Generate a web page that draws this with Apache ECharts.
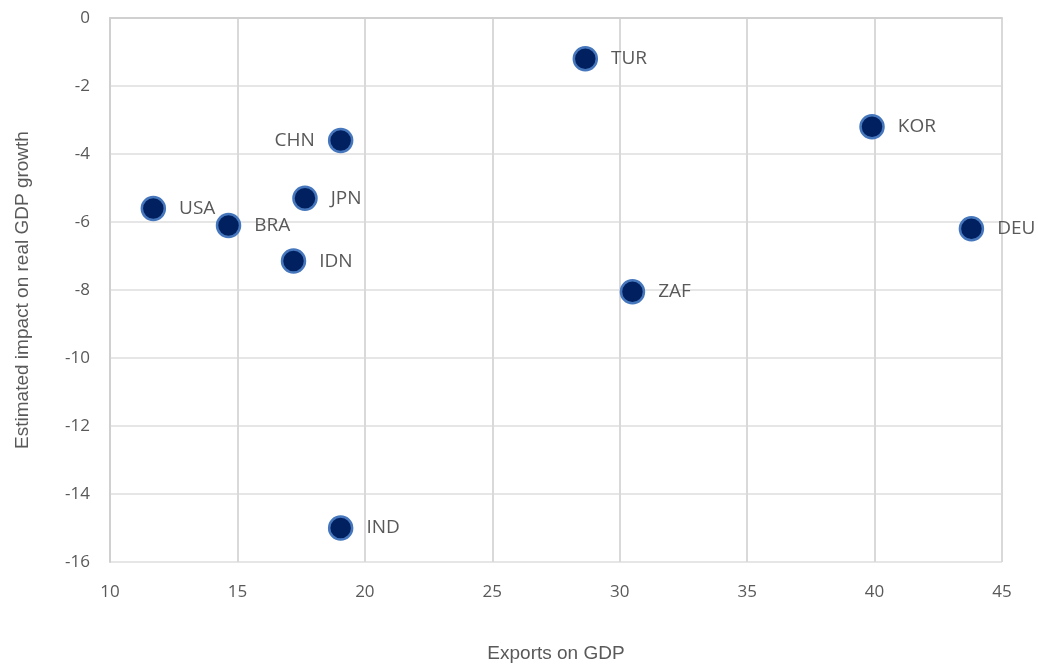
<!DOCTYPE html>
<html>
<head>
<meta charset="utf-8">
<script src="https://cdn.jsdelivr.net/npm/echarts@6/dist/echarts.min.js"></script>
<style>
html,body{margin:0;padding:0;background:#fff;}
#chart{width:1038px;height:668px;}
</style>
</head>
<body>
<div id="chart"></div>
<script>
const countries = ['USA','BRA','CHN','JPN','IDN','IND','TUR','ZAF','KOR','DEU'];
const exportsOnGDP = [11.7, 14.65, 19.05, 17.65, 17.2, 19.05, 28.65, 30.5, 39.9, 43.8];
const gdpImpact = [-5.6, -6.1, -3.6, -5.3, -7.15, -15.0, -1.2, -8.05, -3.2, -6.2];
const labelLeft = ['CHN'];

const data = countries.map((c, i) => ({
  name: c,
  value: [exportsOnGDP[i], gdpImpact[i]],
  label: labelLeft.includes(c) ? {position: 'left', distance: 13} : {}
}));

const chart = echarts.init(document.getElementById('chart'));
const tickFont = {color: '#595959', fontSize: 17, fontFamily: 'Open Sans'};
const nameFont = {color: '#595959', fontSize: 19, fontFamily: 'Liberation Sans Narrow, Liberation Sans, sans-serif'};
chart.setOption({
  animation: false,
  grid: {left: 110, right: 36, top: 18, bottom: 106, outerBoundsMode: 'none'},
  xAxis: {
    type: 'value', min: 10, max: 45, interval: 5,
    name: 'Exports on GDP', nameLocation: 'middle', nameGap: 82,
    nameTextStyle: nameFont,
    axisLine: {show: true, lineStyle: {color: '#d0d0d0', width: 2}},
    axisTick: {show: false},
    axisLabel: Object.assign({margin: 22}, tickFont),
    splitLine: {show: true, lineStyle: {color: '#d9d9d9', width: 2}}
  },
  yAxis: {
    type: 'value', min: -16, max: 0, interval: 2,
    name: 'Estimated impact on real GDP growth', nameLocation: 'middle', nameGap: 78,
    nameTextStyle: nameFont,
    axisLine: {show: true, onZero: false, lineStyle: {color: '#d0d0d0', width: 2}},
    axisTick: {show: false},
    axisLabel: Object.assign({margin: 20}, tickFont),
    splitLine: {show: true, lineStyle: {color: '#e6e6e6', width: 2}}
  },
  series: [{
    type: 'scatter',
    data: data,
    symbolSize: 23,
    itemStyle: {color: '#002060', borderColor: '#4677bd', borderWidth: 2.5, opacity: 1},
    label: {
      show: true, position: 'right', distance: 13,
      formatter: p => p.name,
      color: '#595959', fontSize: 19, fontFamily: 'Open Sans'
    }
  }]
});
</script>
</body>
</html>
